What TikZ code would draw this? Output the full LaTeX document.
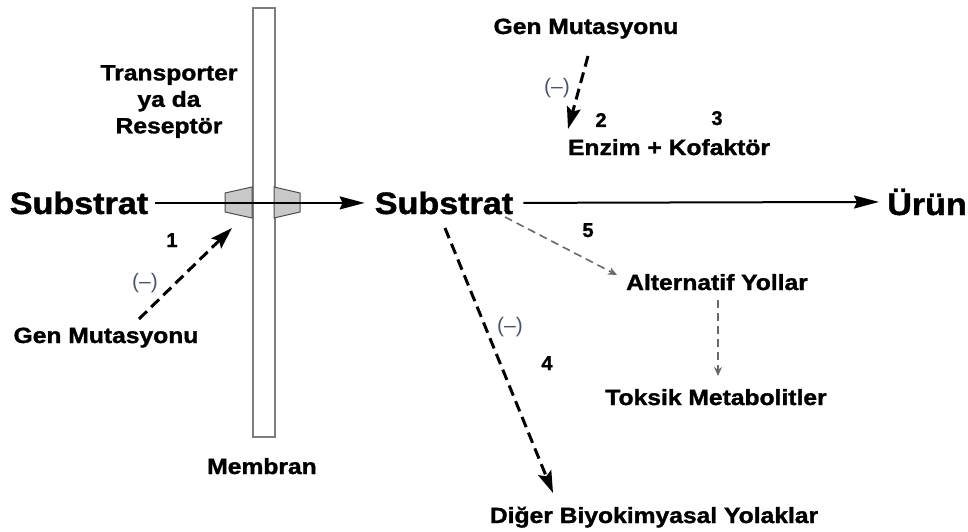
\documentclass[tikz,border=0pt]{standalone}
\usepackage{fontspec}
\setmainfont{Liberation Sans}[BoldFeatures={FakeBold=1.3}]
\usetikzlibrary{arrows.meta}
\definecolor{negc}{RGB}{75,85,105}
\definecolor{dgray}{RGB}{105,105,105}
\definecolor{memb}{RGB}{125,125,125}
\definecolor{hexfill}{RGB}{200,200,200}
\begin{document}
\begin{tikzpicture}[x=1pt,y=-1pt,
  lbl/.style={font=\bfseries\fontsize{22}{26.5}\selectfont, inner sep=0pt, align=center, xscale=1.12},
  big/.style={font=\bfseries\fontsize{31}{34}\selectfont, inner sep=0pt, xscale=1.1},
  num/.style={font=\bfseries\fontsize{20}{22}\selectfont, inner sep=0pt},
  neg/.style={font=\fontsize{21}{23}\selectfont, text=negc, inner sep=0pt},
  mainarrow/.style={line width=2pt, -{Stealth[length=25pt,width=13pt,inset=3pt]}},
  inhib/.style={line width=3pt, dash pattern=on 11pt off 6pt, -{Stealth[length=22pt,width=14pt,inset=4pt]}},
  altarrow/.style={draw=dgray, line width=1.6pt, dash pattern=on 8pt off 5pt, -{Stealth[length=9pt,width=8pt]}}
]
\useasboundingbox (0,0) rectangle (968,532);

% membrane
\draw[memb, line width=1.3pt] (253,8) rectangle (275,437);
% transporter halves
\draw[fill=hexfill, draw=black!70, line width=1pt] (225,193) -- (252,187) -- (252,218) -- (225,212) -- cycle;
\draw[fill=hexfill, draw=black!70, line width=1pt] (274,187) -- (300,193) -- (300,212) -- (274,218) -- cycle;

% nodes
\node[big, anchor=base] (subL) at (79,214) {Substrat};
\node[big, anchor=base] (subM) at (444,214) {Substrat};
\node[big, anchor=base] (urun) at (927,215) {Ürün};

\node[lbl, anchor=north] (trans) at (169,65) {Transporter\\ya da\\Reseptör};
\node[lbl, anchor=base] (memlbl) at (262,474) {Membran};
\node[lbl, anchor=base] (genL) at (106,343) {Gen Mutasyonu};
\node[lbl, anchor=base] (genT) at (586,34) {Gen Mutasyonu};
\node[lbl, anchor=base] (enz) at (669,155) {Enzim + Kofaktör};
\node[lbl, anchor=base] (alt) at (717,290) {Alternatif Yollar};
\node[lbl, anchor=base] (tok) at (716,405) {Toksik Metabolitler};
\node[lbl, anchor=base] (dig) at (654,523) {Diğer Biyokimyasal Yolaklar};

\node[num, anchor=base] (n1) at (172,247) {1};
\node[num, anchor=base] (n2) at (601,127) {2};
\node[num, anchor=base] (n3) at (717,125) {3};
\node[num, anchor=base] (n4) at (547,370) {4};
\node[num, anchor=base] (n5) at (588,237) {5};

\node[neg] (negL) at (145,283) {(–)};
\node[neg] (negT) at (557,88) {(–)};
\node[neg] (negM) at (510,327) {(–)};

% connector ends
\coordinate (aLs) at (139,319);
\coordinate (aLe) at (232,228);
\coordinate (aTs) at (588,56);
\coordinate (aTe) at (568,129);
\coordinate (a4s) at (445,228);
\coordinate (a4e) at (553,493);
\coordinate (a5s) at (505,217);
\coordinate (a5e) at (617,275);
\coordinate (avs) at (718,300);
\coordinate (ave) at (718,376);

% main arrows
\draw[mainarrow, shorten <=7pt, shorten >=10pt] (subL.east) -- (subM.west);
\draw[mainarrow, shorten <=10pt, shorten >=8pt] (subM.east) -- (urun.west);

% inhibition / dashed arrows
\draw[inhib] (aLs) -- (aLe);
\draw[inhib] (aTs) -- (aTe);
\draw[inhib] (a4s) -- (a4e);
\draw[altarrow] (a5s) -- (a5e);
\draw[altarrow] (avs) -- (ave);
\end{tikzpicture}
\end{document}
